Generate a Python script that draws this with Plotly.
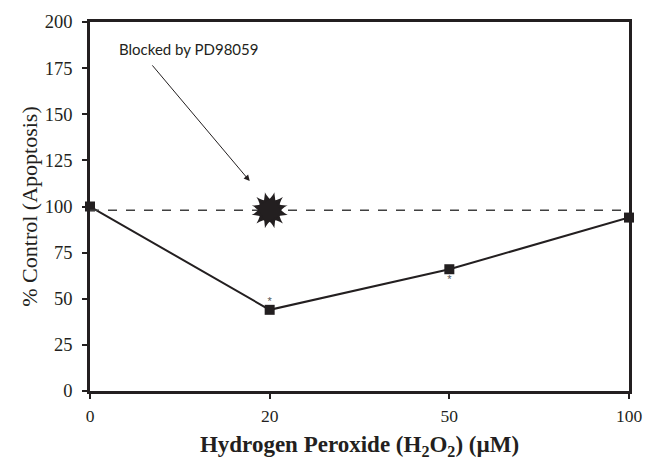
import plotly.graph_objects as go

doses = ["0", "20", "50", "100"]
apoptosis = [100, 44, 66, 94]
control_level = 98          # dashed reference line
blocked_dose = "20"
blocked_value = 98          # starburst marker
sig_doses = ["20", "50"]
sig_values = [48, 60]        # asterisk positions
y_ticks = [0, 25, 50, 75, 100, 125, 150, 175, 200]

ink = "#231f20"
fig = go.Figure()

fig.add_trace(go.Scatter(
    x=doses, y=apoptosis, mode="lines+markers",
    line=dict(color=ink, width=2),
    marker=dict(symbol="square", size=10, color=ink), cliponaxis=False))

fig.add_trace(go.Scatter(
    x=[doses[0], doses[-1]], y=[control_level, control_level], mode="lines",
    line=dict(color="#404040", width=1.5, dash="dash"), hoverinfo="skip"))

for ang in (0, 30, 60):
    fig.add_trace(go.Scatter(
        x=[blocked_dose], y=[blocked_value], mode="markers",
        marker=dict(symbol="star-square", size=24, color=ink, angle=ang,
                    line=dict(width=0))))

fig.add_trace(go.Scatter(
    x=sig_doses, y=sig_values, mode="text", text=["*", "*"],
    textfont=dict(family="Liberation Sans", size=11, color="#555555")))

fig.add_annotation(x=0.889, y=113.8, ax=0.34, ay=177.3, xref="x", yref="y",
                   axref="x", ayref="y", text="", showarrow=True,
                   arrowhead=2, arrowsize=1.2, arrowwidth=1, arrowcolor=ink)
fig.add_annotation(x=0.547, y=185.2, xref="x", yref="y", text="Blocked by PD98059",
                   showarrow=False, font=dict(family="Lato", size=15, color=ink))

fig.update_layout(
    width=656, height=466, showlegend=False,
    margin=dict(l=90, r=27, t=13, b=73),
    paper_bgcolor="white", plot_bgcolor="white",
    font=dict(family="Liberation Serif", color=ink),
    xaxis=dict(type="category", categoryorder="array", categoryarray=doses,
               range=[0, 3], showgrid=False, zeroline=False,
               showline=True, linewidth=2.5, linecolor=ink, mirror=True,
               ticks="outside", ticklen=5, tickwidth=1.5, tickcolor=ink,
               ticklabelstandoff=2,
               tickfont=dict(size=17.5, family="Liberation Serif"),
               title=dict(text="<b>Hydrogen Peroxide (H<sub>2</sub>O<sub>2</sub>) (µM)</b>",
                          font=dict(size=23, family="Liberation Serif"), standoff=12)),
    yaxis=dict(range=[0, 200], tickvals=y_ticks, showgrid=False, zeroline=False,
               showline=True, linewidth=2.5, linecolor=ink, mirror=True,
               ticks="outside", ticklen=5, tickwidth=1.5, tickcolor=ink,
               ticklabelstandoff=6,
               tickfont=dict(size=18.5, family="Liberation Serif"),
               title=dict(text="% Control (Apoptosis)",
                          font=dict(size=22, family="Liberation Serif"), standoff=2)),
)

fig.write_html("out.html", config={"displayModeBar": False},
               post_script="document.body.style.margin='0px';")
